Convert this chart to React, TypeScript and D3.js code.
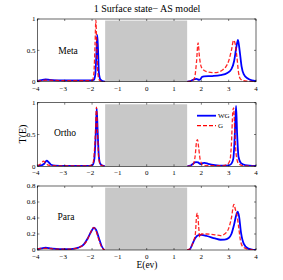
import React from "react";
import * as d3 from "d3";

type P = [number, number];

const xTicks = [-4, -3, -2, -1, 0, 1, 2, 3, 4];
const yTicks1 = [0, 0.5, 1];
const yTicks3 = [0, 0.2, 0.4, 0.6, 0.8];
const panelNames = ["Meta", "Ortho", "Para"];
const seriesNames = ["WG", "G"];
const gapRange: P = [-1.52, 1.48];

const metaWG: P[][] = [
  [[-4,0.01],[-3.85,0.025],[-3.7,0.035],[-3.55,0.028],[-3.3,0.022],[-3,0.02],[-2.6,0.02],[-2.2,0.022],[-2.0,0.02],[-1.93,0.03],[-1.88,0.12],[-1.84,0.45],[-1.81,0.745],[-1.78,0.5],[-1.75,0.15],[-1.7,0.04],[-1.62,0.01],[-1.52,0]],
  [[1.48,0],[1.6,0.01],[1.72,0.035],[1.82,0.045],[1.92,0.03],[1.97,0.04],[2.02,0.075],[2.1,0.085],[2.4,0.09],[2.7,0.105],[2.95,0.14],[3.1,0.2],[3.2,0.33],[3.28,0.55],[3.34,0.665],[3.4,0.5],[3.47,0.25],[3.55,0.12],[3.7,0.05],[3.85,0.02],[4,0.01]],
];
const metaG: P[][] = [
  [[-4,0.005],[-3.8,0.02],[-3.6,0.025],[-3.3,0.02],[-3,0.015],[-2.5,0.015],[-2.1,0.015],[-1.98,0.03],[-1.93,0.15],[-1.89,0.6],[-1.86,0.98],[-1.83,0.6],[-1.79,0.15],[-1.74,0.03],[-1.65,0.005],[-1.52,0]],
  [[1.48,0],[1.65,0.01],[1.75,0.06],[1.82,0.3],[1.88,0.62],[1.93,0.4],[1.98,0.26],[2.05,0.2],[2.2,0.16],[2.4,0.145],[2.6,0.15],[2.75,0.18],[2.9,0.24],[3.0,0.33],[3.1,0.5],[3.18,0.66],[3.24,0.6],[3.3,0.4],[3.36,0.15],[3.42,0.05],[3.55,0.015],[3.8,0.005],[4,0]],
];
const orthoWG: P[][] = [
  [[-4,0.005],[-3.85,0.015],[-3.75,0.04],[-3.66,0.088],[-3.58,0.06],[-3.5,0.025],[-3.35,0.01],[-3,0.005],[-2.5,0.005],[-2.1,0.008],[-1.98,0.02],[-1.92,0.1],[-1.87,0.45],[-1.83,0.91],[-1.79,0.5],[-1.75,0.15],[-1.7,0.04],[-1.62,0.01],[-1.52,0]],
  [[1.48,0],[1.6,0.01],[1.7,0.04],[1.8,0.065],[1.88,0.06],[1.97,0.035],[2.05,0.05],[2.12,0.055],[2.25,0.04],[2.5,0.02],[2.8,0.01],[3.0,0.015],[3.1,0.04],[3.17,0.12],[3.22,0.45],[3.27,0.95],[3.31,0.5],[3.36,0.15],[3.45,0.05],[3.6,0.02],[4,0.005]],
];
const orthoG: P[][] = [
  [[-4,0.01],[-3.85,0.05],[-3.78,0.08],[-3.7,0.05],[-3.6,0.02],[-3.4,0.01],[-3,0.005],[-2.1,0.005],[-1.98,0.03],[-1.92,0.2],[-1.87,0.6],[-1.84,0.93],[-1.8,0.55],[-1.76,0.15],[-1.7,0.03],[-1.6,0.005],[-1.52,0]],
  [[1.48,0],[1.6,0.005],[1.7,0.03],[1.77,0.15],[1.83,0.4],[1.86,0.42],[1.9,0.3],[1.96,0.1],[2.05,0.02],[2.3,0.01],[2.8,0.01],[2.95,0.03],[3.05,0.1],[3.1,0.35],[3.15,0.85],[3.18,0.92],[3.22,0.6],[3.27,0.2],[3.35,0.05],[3.5,0.01],[4,0]],
];
const paraWG: P[][] = [
  [[-4,0.01],[-3.85,0.02],[-3.7,0.028],[-3.5,0.02],[-3.2,0.012],[-2.9,0.012],[-2.7,0.015],[-2.5,0.03],[-2.3,0.07],[-2.15,0.15],[-2.0,0.25],[-1.93,0.28],[-1.85,0.25],[-1.75,0.15],[-1.65,0.05],[-1.55,0]],
  [[1.48,0],[1.58,0.01],[1.68,0.08],[1.78,0.15],[1.9,0.185],[2.0,0.19],[2.2,0.175],[2.5,0.145],[2.7,0.128],[2.85,0.13],[3.0,0.15],[3.1,0.2],[3.2,0.32],[3.28,0.44],[3.33,0.48],[3.38,0.42],[3.45,0.22],[3.55,0.08],[3.7,0.02],[3.85,0.005],[4,0]],
];
const paraG: P[][] = [
  [[-4,0.015],[-3.8,0.02],[-3.6,0.02],[-3.3,0.01],[-2.9,0.01],[-2.6,0.02],[-2.4,0.045],[-2.2,0.11],[-2.05,0.22],[-1.95,0.28],[-1.88,0.26],[-1.78,0.16],[-1.68,0.06],[-1.57,0.005],[-1.52,0]],
  [[1.48,0],[1.6,0.02],[1.7,0.1],[1.78,0.2],[1.83,0.44],[1.86,0.46],[1.9,0.3],[1.94,0.16],[2.0,0.2],[2.2,0.2],[2.5,0.19],[2.7,0.18],[2.85,0.2],[3.0,0.27],[3.1,0.4],[3.19,0.57],[3.25,0.5],[3.3,0.44],[3.36,0.3],[3.43,0.12],[3.52,0.04],[3.7,0.01],[4,0]],
];

const panels = [
  { name: panelNames[0], wg: metaWG, g: metaG, ymax: 1, yTicks: yTicks1, top: 19, bottom: 81.7, lx: 68, ly: 50, legend: false },
  { name: panelNames[1], wg: orthoWG, g: orthoG, ymax: 1, yTicks: yTicks1, top: 102.7, bottom: 166.3, lx: 65, ly: 132, legend: true },
  { name: panelNames[2], wg: paraWG, g: paraG, ymax: 0.8, yTicks: yTicks3, top: 186, bottom: 250, lx: 66, ly: 216, legend: false },
];

const W = 283, H = 280;
const left = 37.4, right = 256;
const fontFam = "'Liberation Serif', 'DejaVu Serif', serif";
const fmt = (v: number) => (v < 0 ? "\u2212" + Math.abs(v) : String(v));

export default function App() {
  const x = d3.scaleLinear().domain([-4, 4]).range([left, right]);
  return (
    <svg width={W} height={H} style={{ position: "absolute", left: 0, top: 0, background: "#fff" }} fontFamily={fontFam}>
      <text x={147} y={11.5} fontSize={10} textAnchor="middle">1 Surface state{"\u2212"} AS model</text>
      <text transform={`translate(26,134) rotate(-90)`} fontSize={10} textAnchor="middle">T(E)</text>
      <text x={147} y={268} fontSize={9.5} textAnchor="middle">E(ev)</text>
      {panels.map((p, i) => {
        const y = d3.scaleLinear().domain([0, p.ymax]).range([p.bottom, p.top]);
        const line = d3.line<P>().x(d => x(d[0])).y(d => y(d[1])).curve(d3.curveMonotoneX);
        const clipId = `clip${i}`;
        return (
          <g key={i}>
            <defs>
              <clipPath id={clipId}>
                <rect x={left} y={p.top} width={right - left} height={p.bottom - p.top} />
              </clipPath>
            </defs>
            <g clipPath={`url(#${clipId})`}>
              {p.wg.map((seg, k) => (
                <path key={"w" + k} d={line(seg) || ""} fill="none" stroke="#0000ff" strokeWidth={1.8} strokeLinejoin="round" />
              ))}
              {p.g.map((seg, k) => (
                <path key={"g" + k} d={line(seg) || ""} fill="none" stroke="#ff0000" strokeWidth={1.3} strokeDasharray="4,2" opacity={0.85} />
              ))}
              <rect x={x(gapRange[0])} y={y(p.ymax * 0.975)} width={x(gapRange[1]) - x(gapRange[0])} height={p.bottom - y(p.ymax * 0.975)} fill="#c8c8c8" />
            </g>
            <rect x={left} y={p.top} width={right - left} height={p.bottom - p.top} fill="none" stroke="#000" strokeWidth={0.6} />
            {xTicks.map(t => (
              <g key={"x" + t}>
                <line x1={x(t)} x2={x(t)} y1={p.bottom} y2={p.bottom - 2} stroke="#000" strokeWidth={0.5} />
                <line x1={x(t)} x2={x(t)} y1={p.top} y2={p.top + 2} stroke="#000" strokeWidth={0.5} />
                <text x={x(t) - (t < 0 ? 1.5 : 0)} y={p.bottom + 9} fontSize={7} textAnchor="middle">{fmt(t)}</text>
              </g>
            ))}
            {p.yTicks.map(t => (
              <g key={"y" + t}>
                <line x1={left} x2={left + 2} y1={y(t)} y2={y(t)} stroke="#000" strokeWidth={0.5} />
                <line x1={right} x2={right - 2} y1={y(t)} y2={y(t)} stroke="#000" strokeWidth={0.5} />
                <text x={left - 2} y={y(t) + 2.2} fontSize={7} textAnchor="end">{String(t)}</text>
              </g>
            ))}
            <text x={p.lx} y={p.ly + 3.5} fontSize={9.5} textAnchor="middle">{p.name}</text>
            {p.legend && (
              <g>
                <line x1={197} x2={216} y1={115.7} y2={115.7} stroke="#0000ff" strokeWidth={1.8} />
                <text x={218} y={118} fontSize={7}>{seriesNames[0]}</text>
                <line x1={197} x2={216} y1={125.7} y2={125.7} stroke="#ff0000" strokeWidth={1.3} strokeDasharray="4,2" />
                <text x={218} y={128} fontSize={7}>{seriesNames[1]}</text>
              </g>
            )}
          </g>
        );
      })}
    </svg>
  );
}
